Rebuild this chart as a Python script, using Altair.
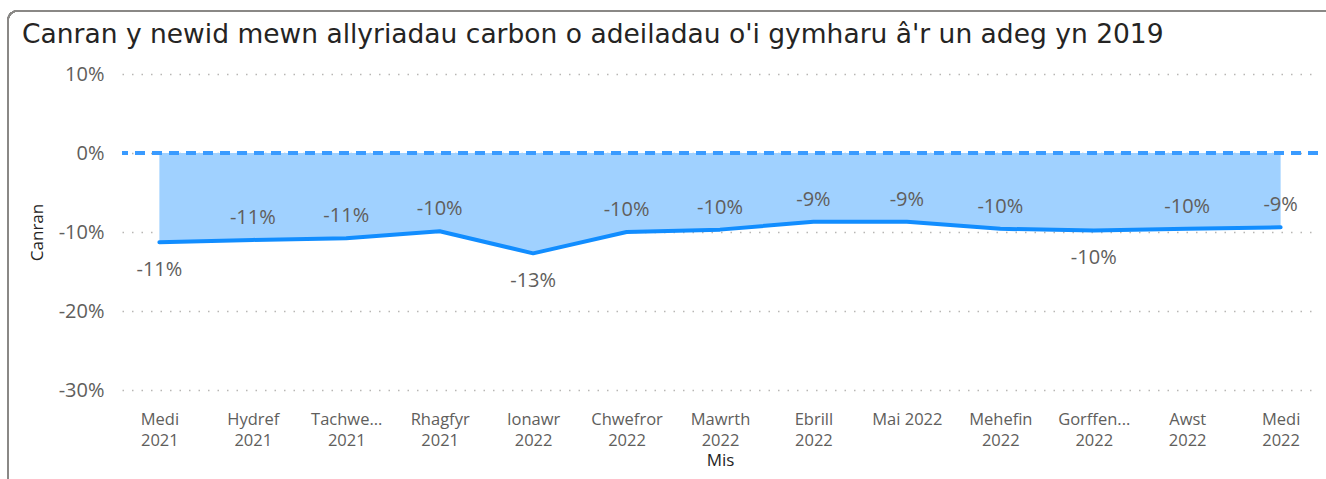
import altair as alt
import pandas as pd
import json

months = ["Medi 2021", "Hydref 2021", "Tachwedd 2021", "Rhagfyr 2021", "Ionawr 2022",
          "Chwefror 2022", "Mawrth 2022", "Ebrill 2022", "Mai 2022", "Mehefin 2022",
          "Gorffennaf 2022", "Awst 2022", "Medi 2022"]
tick_labels = ["Medi\n2021", "Hydref\n2021", "Tachwe...\n2021", "Rhagfyr\n2021", "Ionawr\n2022",
               "Chwefror\n2022", "Mawrth\n2022", "Ebrill\n2022", "Mai 2022", "Mehefin\n2022",
               "Gorffen...\n2022", "Awst\n2022", "Medi\n2022"]
values = [-0.113, -0.110, -0.108, -0.099, -0.127, -0.100, -0.097, -0.087, -0.087,
          -0.096, -0.098, -0.096, -0.094]
labels_below = ["Medi 2021", "Ionawr 2022", "Gorffennaf 2022"]
y_ticks = [0.1, 0.0, -0.1, -0.2, -0.3]

df = pd.DataFrame({"Mis": months, "Canran": values})

label_map = json.dumps(dict(zip(months, tick_labels)))
label_expr = f"split({label_map}[datum.value], '\\n')"

FONT = "Open Sans"
GREY = "#605E5C"
BLUE = "#118DFF"

x = alt.X("Mis:N", sort=months, title="Mis",
          scale=alt.Scale(type="point", padding=0.4),
          axis=alt.Axis(labelExpr=label_expr, labelAngle=0, labelFontSize=16.5,
                        labelPadding=21, grid=False, titlePadding=4, labelLineHeight=21))
y_scale = alt.Scale(domain=[-0.3, 0.1], nice=False, zero=False)

base = alt.Chart(df).transform_calculate(
    lbl="replace(format(datum.Canran, '.0%'), '\u2212', '-')"
)

area = base.mark_area(color="#A0D1FF", opacity=1).encode(
    x=x,
    y=alt.Y("Canran:Q", scale=y_scale, title="Canran",
            axis=alt.Axis(values=y_ticks, format=".0%",
                          labelExpr="replace(datum.label, '\u2212', '-')",
                          labelFontSize=20, labelPadding=18,
                          grid=True, gridColor="#B8B6B4", gridDash=[1.5, 8], gridWidth=1.5,
                          titlePadding=12)),
    y2=alt.datum(0),
)

zero_rule = alt.Chart(df).mark_rule(color="#3A9BFF", strokeDash=[10, 7], strokeWidth=4).encode(
    y=alt.datum(0)
)

line = base.mark_line(color=BLUE, strokeWidth=4, strokeCap="round", strokeJoin="round").encode(
    x=x, y=alt.Y("Canran:Q", scale=y_scale)
)

text_above = base.transform_filter(
    {"not": alt.FieldOneOfPredicate(field="Mis", oneOf=labels_below)}
).mark_text(font=FONT, fontSize=20, color=GREY, dy=-22).encode(
    x=x, y=alt.Y("Canran:Q", scale=y_scale), text="lbl:N"
)
text_below = base.transform_filter(
    alt.FieldOneOfPredicate(field="Mis", oneOf=labels_below)
).mark_text(font=FONT, fontSize=20, color=GREY, dy=28).encode(
    x=x, y=alt.Y("Canran:Q", scale=y_scale), text="lbl:N"
)

frame = alt.Chart(df).mark_rect(fill=None, stroke="#8A8886", strokeWidth=1.5, cornerRadius=9).encode(
    x=alt.value(-114), x2=alt.value(1240), y=alt.value(-63), y2=alt.value(440)
)

chart = alt.layer(frame, area, zero_rule, line, text_above, text_below).properties(
    width=1196, height=316,
    title=alt.TitleParams(
        "Canran y newid mewn allyriadau carbon o adeiladau o'i gymharu â'r un adeg yn 2019",
        anchor="start", frame="group", font="DejaVu Sans", fontSize=26.5, fontWeight="normal",
        color="#252423", dx=-100, offset=-38),
    autosize=alt.AutoSizeParams(type="none"),
    padding={"left": 122, "top": 74, "right": 8, "bottom": 89},
    background="white",
).configure_view(stroke=None).configure_axis(
    labelFont=FONT, labelColor=GREY, ticks=False, domain=False,
    titleFont=FONT, titleFontSize=17, titleFontWeight="normal", titleColor="#252423"
)

chart.save("out.html", embed_options={"renderer": "svg", "actions": False})
